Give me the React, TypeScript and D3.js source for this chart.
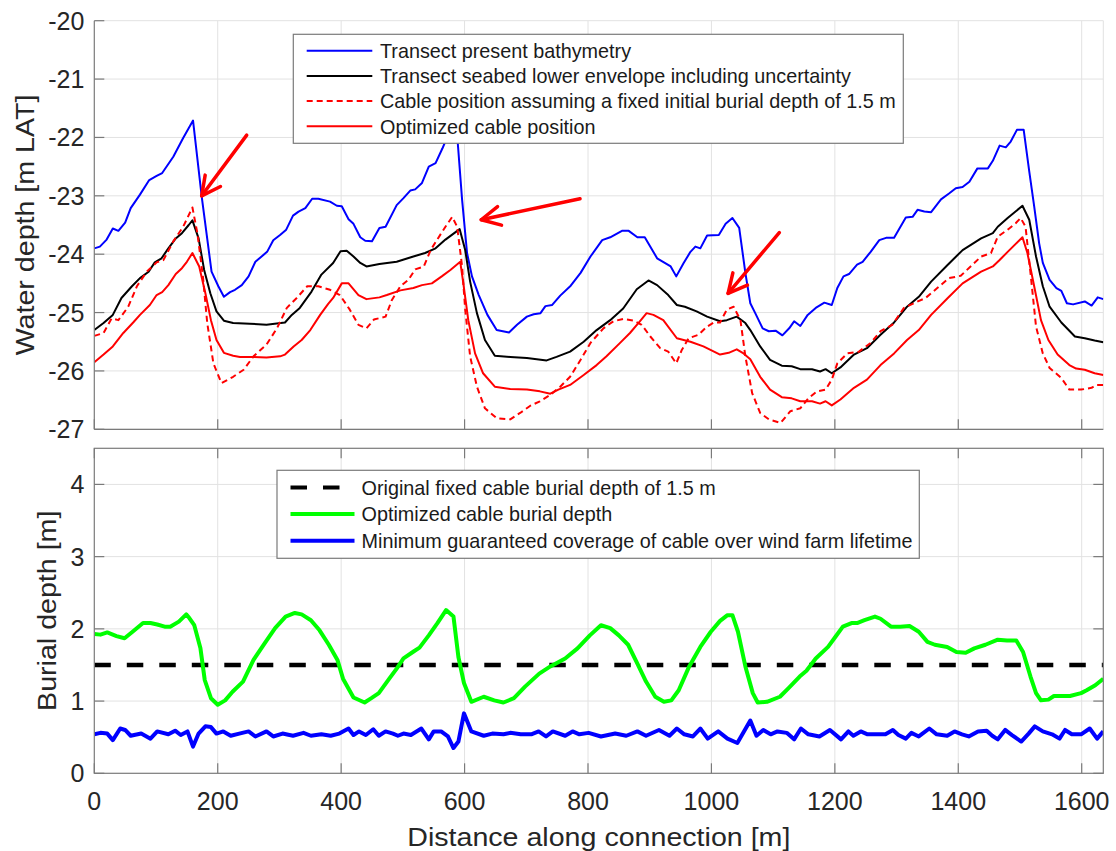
import React from "react";
import * as d3 from "d3";

// ---------------- DATA ----------------
const xTicks = [0, 200, 400, 600, 800, 1000, 1200, 1400, 1600];
const topYTicks = [-20, -21, -22, -23, -24, -25, -26, -27];
const bottomYTicks = [0, 1, 2, 3, 4];

const topLegend = [
  "Transect present bathymetry",
  "Transect seabed lower envelope including uncertainty",
  "Cable position assuming a fixed initial burial depth of 1.5 m",
  "Optimized cable position",
];
const bottomLegend = [
  "Original fixed cable burial depth of 1.5 m",
  "Optimized cable burial depth",
  "Minimum guaranteed coverage of cable over wind farm lifetime",
];

const bathymetry: [number, number][] = [
  [0, -23.9], [9, -23.87], [20, -23.75], [30, -23.56], [39, -23.6], [50, -23.46], [59, -23.21], [74, -22.98],
  [89, -22.73], [101, -22.66], [110, -22.61], [128, -22.33], [144, -22.01], [160, -21.71], [174, -23.01],
  [190, -24.3], [201, -24.55], [210, -24.73], [220, -24.65], [228, -24.61], [239, -24.53], [250, -24.38],
  [261, -24.13], [280, -23.96], [290, -23.76], [301, -23.67], [311, -23.58], [322, -23.34], [331, -23.27],
  [342, -23.21], [353, -23.05], [363, -23.05], [382, -23.1], [393, -23.17], [401, -23.18], [412, -23.4],
  [420, -23.48], [431, -23.71], [439, -23.77], [450, -23.78], [462, -23.55], [472, -23.53], [490, -23.16],
  [501, -23.04], [512, -22.91], [520, -22.89], [531, -22.78], [542, -22.5], [553, -22.44], [564, -22.19],
  [570, -22.04], [582, -21.6], [589, -22.1], [596, -23.07], [604, -23.98], [612, -24.38], [623, -24.7],
  [637, -25.04], [652, -25.3], [672, -25.34], [685, -25.21], [701, -25.07], [712, -25.03], [723, -25.01],
  [731, -24.89], [742, -24.87], [755, -24.71], [772, -24.54], [788, -24.32], [804, -24.04], [823, -23.76],
  [836, -23.71], [855, -23.6], [866, -23.6], [880, -23.71], [892, -23.71], [912, -24.07], [923, -24.14],
  [934, -24.21], [943, -24.38], [955, -24.15], [966, -23.96], [974, -23.87], [982, -23.9], [993, -23.68],
  [1012, -23.67], [1023, -23.48], [1034, -23.38], [1045, -23.55], [1055, -24.32], [1063, -24.84],
  [1071, -25.01], [1083, -25.27], [1093, -25.32], [1104, -25.31], [1115, -25.39], [1126, -25.27],
  [1134, -25.15], [1144, -25.23], [1156, -25.04], [1169, -24.92], [1183, -24.83], [1195, -24.87],
  [1204, -24.58], [1214, -24.38], [1223, -24.34], [1236, -24.18], [1245, -24.13], [1258, -23.96],
  [1272, -23.76], [1283, -23.72], [1296, -23.72], [1315, -23.37], [1326, -23.36], [1334, -23.24],
  [1345, -23.27], [1356, -23.28], [1372, -23.06], [1385, -22.96], [1396, -22.87], [1407, -22.85],
  [1418, -22.76], [1431, -22.53], [1448, -22.53], [1456, -22.4], [1467, -22.14], [1477, -22.17],
  [1485, -22.07], [1495, -21.87], [1506, -21.87], [1515, -22.58], [1523, -23.18], [1531, -23.81],
  [1537, -24.15], [1548, -24.44], [1559, -24.58], [1567, -24.63], [1576, -24.84], [1586, -24.86],
  [1605, -24.81], [1616, -24.88], [1626, -24.74], [1635, -24.77],
];

const lowerEnvelope: [number, number][] = [
  [0, -25.3], [15, -25.18], [30, -25.04], [44, -24.75], [61, -24.55], [74, -24.41], [88, -24.3], [98, -24.14],
  [109, -24.07], [120, -23.9], [132, -23.73], [142, -23.64], [153, -23.5], [159, -23.42], [169, -23.73],
  [178, -24.27], [188, -24.67], [198, -24.98], [210, -25.14], [225, -25.18], [252, -25.19], [279, -25.21],
  [309, -25.17], [320, -25.04], [333, -24.92], [352, -24.64], [368, -24.35], [387, -24.15], [399, -23.95],
  [409, -23.94], [420, -24.04], [431, -24.15], [441, -24.21], [462, -24.17], [490, -24.13], [517, -24.04],
  [536, -23.98], [553, -23.9], [569, -23.75], [592, -23.57], [601, -23.93], [609, -24.47], [620, -25.01],
  [633, -25.47], [649, -25.74], [674, -25.76], [701, -25.78], [717, -25.8], [733, -25.82], [749, -25.76],
  [771, -25.67], [793, -25.5], [814, -25.3], [836, -25.13], [857, -24.93], [879, -24.6], [898, -24.45],
  [912, -24.53], [930, -24.7], [944, -24.87], [957, -24.9], [976, -24.98], [993, -25.07], [1014, -25.15],
  [1025, -25.13], [1041, -25.07], [1055, -25.18], [1063, -25.3], [1079, -25.58], [1095, -25.81],
  [1114, -25.91], [1130, -25.92], [1144, -25.97], [1163, -25.97], [1176, -26.01], [1185, -25.97],
  [1195, -26.04], [1209, -25.94], [1231, -25.72], [1252, -25.61], [1274, -25.38], [1296, -25.17],
  [1317, -24.9], [1336, -24.73], [1356, -24.47], [1383, -24.18], [1407, -23.93], [1437, -23.73],
  [1456, -23.64], [1464, -23.53], [1480, -23.38], [1504, -23.17], [1515, -23.41], [1526, -24.04],
  [1537, -24.55], [1548, -24.9], [1567, -25.17], [1589, -25.41], [1605, -25.44], [1621, -25.48], [1635, -25.51],
];

const fixedCable: [number, number][] = [
  [0, -25.4], [15, -25.35], [28, -25.1], [39, -25.13], [55, -24.9], [69, -24.55], [85, -24.3], [101, -24.14],
  [112, -24.1], [128, -23.78], [144, -23.53], [159, -23.2], [167, -23.64], [176, -24.38], [183, -25.18],
  [193, -25.87], [206, -26.21], [225, -26.1], [242, -25.98], [258, -25.75], [279, -25.55], [296, -25.27],
  [312, -24.92], [328, -24.75], [345, -24.55], [363, -24.55], [382, -24.61], [398, -24.7], [414, -24.95],
  [428, -25.21], [441, -25.27], [453, -25.12], [472, -25.07], [482, -24.79], [496, -24.55], [509, -24.44],
  [520, -24.26], [534, -24.21], [545, -23.93], [555, -23.76], [569, -23.53], [580, -23.36], [588, -23.53],
  [596, -24.21], [601, -24.95], [609, -25.75], [620, -26.27], [633, -26.64], [652, -26.81], [674, -26.83],
  [690, -26.72], [706, -26.6], [722, -26.52], [739, -26.41], [755, -26.27], [771, -26.1], [788, -25.81],
  [804, -25.52], [825, -25.27], [841, -25.15], [857, -25.11], [874, -25.14], [887, -25.21], [901, -25.41],
  [917, -25.61], [930, -25.67], [943, -25.87], [952, -25.64], [963, -25.44], [979, -25.38], [993, -25.24],
  [1004, -25.17], [1014, -25.17], [1025, -24.95], [1036, -24.9], [1047, -25.13], [1055, -25.75],
  [1066, -26.38], [1079, -26.72], [1093, -26.83], [1112, -26.89], [1128, -26.69], [1144, -26.64],
  [1157, -26.47], [1171, -26.35], [1185, -26.32], [1195, -26.15], [1204, -25.87], [1220, -25.7],
  [1239, -25.67], [1258, -25.52], [1274, -25.32], [1293, -25.21], [1312, -24.92], [1328, -24.84],
  [1347, -24.75], [1366, -24.58], [1385, -24.41], [1404, -24.37], [1423, -24.18], [1437, -24.04],
  [1453, -23.98], [1464, -23.7], [1480, -23.58], [1493, -23.47], [1501, -23.38], [1509, -23.53],
  [1517, -24.32], [1526, -25.24], [1537, -25.7], [1548, -25.95], [1567, -26.12], [1580, -26.32],
  [1599, -26.32], [1616, -26.29], [1624, -26.24], [1635, -26.24],
];

const optimizedCable: [number, number][] = [
  [0, -25.85], [15, -25.72], [30, -25.58], [47, -25.35], [63, -25.17], [74, -25.04], [90, -24.87], [101, -24.7],
  [110, -24.65], [120, -24.53], [132, -24.34], [142, -24.24], [150, -24.13], [159, -23.98], [170, -24.21],
  [180, -24.67], [189, -25.13], [198, -25.47], [210, -25.69], [225, -25.74], [236, -25.76], [258, -25.76],
  [279, -25.77], [301, -25.75], [309, -25.72], [323, -25.58], [336, -25.47], [350, -25.3], [366, -25.04],
  [379, -24.85], [387, -24.75], [401, -24.5], [412, -24.5], [428, -24.7], [441, -24.77], [462, -24.74],
  [474, -24.7], [496, -24.62], [517, -24.58], [531, -24.53], [547, -24.5], [563, -24.38], [577, -24.27],
  [593, -24.13], [598, -24.5], [606, -25.13], [617, -25.7], [630, -26.04], [649, -26.27], [674, -26.31],
  [701, -26.32], [722, -26.35], [739, -26.39], [752, -26.32], [771, -26.24], [793, -26.07], [814, -25.9],
  [830, -25.75], [852, -25.52], [868, -25.35], [884, -25.15], [895, -25.01], [906, -25.04], [922, -25.13],
  [944, -25.44], [966, -25.5], [987, -25.58], [1014, -25.72], [1028, -25.69], [1041, -25.63], [1052, -25.7],
  [1063, -25.8], [1079, -26.1], [1095, -26.32], [1114, -26.45], [1130, -26.47], [1144, -26.52],
  [1163, -26.52], [1176, -26.56], [1185, -26.52], [1195, -26.59], [1209, -26.49], [1231, -26.29],
  [1252, -26.15], [1274, -25.9], [1296, -25.7], [1317, -25.47], [1336, -25.3], [1356, -25.04],
  [1383, -24.75], [1407, -24.5], [1437, -24.3], [1456, -24.21], [1467, -24.1], [1480, -23.96],
  [1504, -23.71], [1512, -23.98], [1523, -24.55], [1534, -25.13], [1546, -25.47], [1561, -25.72],
  [1580, -25.9], [1591, -25.96], [1605, -25.98], [1621, -26.04], [1635, -26.07],
];

// arrows: [tailX, tailY, tipX, tipY] in data units
const arrows: [number, number, number, number][] = [
  [247, -21.96, 174, -23.0],
  [787, -23.05, 627, -23.41],
  [1110, -23.63, 1027, -24.67],
];

const fixedBurialDepth = 1.5;

const optimizedBurial: [number, number][] = [
  [0, 1.93], [10, 1.92], [21, 1.95], [36, 1.9], [49, 1.87], [62, 1.96], [79, 2.08], [91, 2.08], [102, 2.06],
  [114, 2.03], [123, 2.03], [137, 2.1], [149, 2.2], [154, 2.15], [162, 2.05], [172, 1.73], [179, 1.29],
  [189, 1.04], [200, 0.95], [212, 1.01], [224, 1.13], [241, 1.27], [258, 1.57], [276, 1.8], [293, 2.01],
  [310, 2.17], [325, 2.22], [336, 2.2], [351, 2.12], [365, 1.98], [380, 1.78], [394, 1.57], [403, 1.31],
  [420, 1.05], [438, 0.98], [449, 1.04], [461, 1.11], [478, 1.31], [490, 1.45], [501, 1.59], [518, 1.69],
  [527, 1.74], [542, 1.91], [556, 2.08], [570, 2.26], [582, 2.17], [590, 1.61], [599, 1.25], [611, 0.99],
  [631, 1.06], [648, 1.01], [663, 0.98], [680, 1.04], [698, 1.2], [721, 1.38], [739, 1.48], [763, 1.59],
  [783, 1.73], [803, 1.91], [821, 2.05], [836, 2.01], [850, 1.91], [865, 1.78], [880, 1.52], [894, 1.27],
  [909, 1.06], [923, 0.99], [935, 1.01], [947, 1.15], [964, 1.48], [982, 1.75], [999, 1.96], [1014, 2.11],
  [1026, 2.19], [1034, 2.19], [1043, 1.96], [1055, 1.48], [1067, 1.11], [1075, 0.98], [1090, 0.99],
  [1111, 1.06], [1125, 1.18], [1143, 1.34], [1154, 1.42], [1169, 1.59], [1189, 1.75], [1201, 1.89],
  [1213, 2.03], [1227, 2.08], [1236, 2.08], [1248, 2.12], [1265, 2.17], [1274, 2.14], [1291, 2.03],
  [1306, 2.03], [1321, 2.04], [1336, 1.96], [1350, 1.82], [1362, 1.78], [1382, 1.75], [1397, 1.68],
  [1412, 1.67], [1426, 1.73], [1444, 1.78], [1464, 1.85], [1479, 1.84], [1494, 1.84], [1505, 1.68],
  [1517, 1.34], [1526, 1.11], [1534, 1.01], [1546, 1.02], [1555, 1.07], [1581, 1.07], [1599, 1.11],
  [1608, 1.15], [1622, 1.22], [1635, 1.31],
];

const minCoverage: [number, number][] = [
  [0, 0.54], [10, 0.56], [21, 0.55], [30, 0.46], [42, 0.62], [50, 0.6], [59, 0.52], [76, 0.55], [91, 0.48],
  [102, 0.58], [120, 0.54], [131, 0.59], [140, 0.53], [151, 0.58], [160, 0.37], [169, 0.55], [180, 0.65],
  [189, 0.64], [198, 0.55], [209, 0.58], [221, 0.52], [235, 0.55], [250, 0.58], [261, 0.51], [279, 0.58],
  [290, 0.51], [305, 0.55], [322, 0.52], [339, 0.56], [351, 0.52], [368, 0.54], [383, 0.52], [397, 0.55],
  [412, 0.62], [420, 0.53], [429, 0.58], [440, 0.53], [452, 0.61], [461, 0.52], [472, 0.58], [484, 0.55],
  [492, 0.52], [501, 0.55], [513, 0.53], [530, 0.62], [542, 0.47], [550, 0.58], [562, 0.58], [573, 0.51],
  [582, 0.35], [590, 0.44], [599, 0.83], [611, 0.58], [631, 0.52], [645, 0.55], [663, 0.54], [674, 0.56],
  [691, 0.54], [708, 0.54], [720, 0.58], [732, 0.51], [743, 0.58], [763, 0.52], [775, 0.58], [786, 0.54],
  [801, 0.56], [821, 0.51], [844, 0.55], [862, 0.52], [880, 0.58], [894, 0.52], [915, 0.6], [932, 0.52],
  [944, 0.62], [956, 0.54], [970, 0.51], [982, 0.62], [994, 0.48], [1011, 0.58], [1026, 0.48], [1042, 0.42],
  [1063, 0.73], [1073, 0.52], [1084, 0.6], [1096, 0.54], [1107, 0.58], [1122, 0.56], [1134, 0.47],
  [1145, 0.62], [1157, 0.54], [1175, 0.51], [1192, 0.6], [1210, 0.47], [1222, 0.58], [1230, 0.52],
  [1242, 0.58], [1253, 0.54], [1282, 0.54], [1294, 0.6], [1303, 0.53], [1315, 0.48], [1324, 0.56],
  [1336, 0.51], [1353, 0.62], [1365, 0.54], [1382, 0.52], [1394, 0.58], [1406, 0.54], [1417, 0.51],
  [1432, 0.58], [1446, 0.59], [1455, 0.52], [1464, 0.47], [1476, 0.6], [1487, 0.53], [1502, 0.44],
  [1514, 0.55], [1524, 0.65], [1537, 0.58], [1552, 0.54], [1564, 0.48], [1573, 0.6], [1584, 0.54],
  [1599, 0.54], [1613, 0.62], [1625, 0.48], [1635, 0.58],
];

// ---------------- LAYOUT ----------------
const W = 1116;
const H = 851;
const L = 94.3;
const R = 1103.3;
const topT = 20.7;
const topB = 429.3;
const botT = 448.3;
const botB = 773.3;
const FONT = "'Liberation Sans', Arial, Helvetica, sans-serif";
const AXIS = "#7a7a7a";
const GRID = "#e2e2e2";
const TXT = "#262626";
const LABEL_SIZE = 26;
const LABEL_STRETCH = 1.1;
const LEGEND_SIZE = 19.8;

export default function App() {
  const x = d3.scaleLinear().domain([0, 1635]).range([L, R]);
  const yTop = d3.scaleLinear().domain([-27, -20]).range([topB, topT]);
  const yBot = d3.scaleLinear().domain([0, 4.5]).range([botB, botT]);

  const lineTop = d3.line<[number, number]>().x((d) => x(d[0])).y((d) => yTop(d[1]));
  const lineBot = d3.line<[number, number]>().x((d) => x(d[0])).y((d) => yBot(d[1]));

  const arrowEls = arrows.map((a, i) => {
    const x1 = x(a[0]), y1 = yTop(a[1]), x2 = x(a[2]), y2 = yTop(a[3]);
    const ang = Math.atan2(y1 - y2, x1 - x2);
    const hl = 21;
    const da = (27 * Math.PI) / 180;
    const h1 = [x2 + hl * Math.cos(ang + da), y2 + hl * Math.sin(ang + da)];
    const h2 = [x2 + hl * Math.cos(ang - da), y2 + hl * Math.sin(ang - da)];
    return (
      <g key={i} stroke="#ff0000" strokeWidth={3.5} fill="none" strokeLinecap="round" strokeLinejoin="round">
        <line x1={x1} y1={y1} x2={x2} y2={y2} />
        <polyline points={`${h1[0]},${h1[1]} ${x2},${y2} ${h2[0]},${h2[1]}`} />
      </g>
    );
  });

  const topSeries = [
    { data: bathymetry, color: "#0000ff", dash: undefined as string | undefined },
    { data: lowerEnvelope, color: "#000000", dash: undefined },
    { data: fixedCable, color: "#ff0000", dash: "6,4" },
    { data: optimizedCable, color: "#ff0000", dash: undefined },
  ];

  const topLegendBox = { x0: 293.3, y0: 34.3, x1: 903.3, y1: 143.3 };
  const botLegendBox = { x0: 277, y0: 470.3, x1: 919.3, y1: 558.3 };

  return (
    <svg
      width={W}
      height={H}
      viewBox={`0 0 ${W} ${H}`}
      style={{ position: "absolute", left: 0, top: 0, background: "#fff" }}
      fontFamily={FONT}
    >
      <defs>
        <clipPath id="clipTop">
          <rect x={L} y={topT} width={R - L} height={topB - topT} />
        </clipPath>
        <clipPath id="clipBot">
          <rect x={L} y={botT} width={R - L} height={botB - botT} />
        </clipPath>
      </defs>
      <rect x={0} y={0} width={W} height={H} fill="#fff" />

      {/* ===== TOP PANEL ===== */}
      <g>
        {xTicks.filter((t) => t > 0).map((t) => (
          <line key={"gx" + t} x1={x(t)} x2={x(t)} y1={topT} y2={topB} stroke={GRID} strokeWidth={1} />
        ))}
        {topYTicks.map((t) => (
          <line key={"gy" + t} x1={L} x2={R} y1={yTop(t)} y2={yTop(t)} stroke={GRID} strokeWidth={1} />
        ))}
        <line x1={R} x2={R} y1={topT} y2={topB} stroke={GRID} strokeWidth={1} />
        <g clipPath="url(#clipTop)">
          {topSeries.map((s, i) => (
            <path
              key={i}
              d={lineTop(s.data) || ""}
              fill="none"
              stroke={s.color}
              strokeWidth={2}
              strokeDasharray={s.dash}
              strokeLinejoin="round"
            />
          ))}
          {arrowEls}
        </g>
        {/* axes */}
        <line x1={L} x2={L} y1={topT} y2={topB} stroke={AXIS} strokeWidth={1.2} />
        <line x1={L} x2={R} y1={topB} y2={topB} stroke={AXIS} strokeWidth={1.2} />
        {xTicks.map((t) => (
          <line key={"tx" + t} x1={x(t)} x2={x(t)} y1={topB} y2={topB - 10} stroke={AXIS} strokeWidth={1.2} />
        ))}
        {topYTicks.map((t) => (
          <g key={"ty" + t}>
            <line x1={L} x2={L + 10} y1={yTop(t)} y2={yTop(t)} stroke={AXIS} strokeWidth={1.2} />
            <text x={L - 10} y={yTop(t) + 9} textAnchor="end" fontSize={25} fill={TXT}>
              {t}
            </text>
          </g>
        ))}
        <text
          transform={`translate(34,${(topT + topB) / 2}) rotate(-90) scale(${LABEL_STRETCH},1)`}
          textAnchor="middle"
          fontSize={LABEL_SIZE}
          fill={TXT}
        >
          Water depth [m LAT]
        </text>
        {/* legend */}
        <rect
          x={topLegendBox.x0}
          y={topLegendBox.y0}
          width={topLegendBox.x1 - topLegendBox.x0}
          height={topLegendBox.y1 - topLegendBox.y0}
          fill="#fff"
          stroke={AXIS}
          strokeWidth={1.2}
        />
        {topLegend.map((label, i) => {
          const cy = 50.7 + i * 25.2;
          const s = topSeries[i];
          return (
            <g key={"tl" + i}>
              <line x1={306.7} x2={372.3} y1={cy} y2={cy} stroke={s.color} strokeWidth={2} strokeDasharray={s.dash} />
              <text x={380} y={cy + 7.2} fontSize={LEGEND_SIZE} fill="#1a1a1a">
                {label}
              </text>
            </g>
          );
        })}
      </g>

      {/* ===== BOTTOM PANEL ===== */}
      <g>
        {xTicks.filter((t) => t > 0).map((t) => (
          <line key={"bgx" + t} x1={x(t)} x2={x(t)} y1={botT} y2={botB} stroke={GRID} strokeWidth={1} />
        ))}
        {bottomYTicks.filter((t) => t > 0).map((t) => (
          <line key={"bgy" + t} x1={L} x2={R} y1={yBot(t)} y2={yBot(t)} stroke={GRID} strokeWidth={1} />
        ))}
        <g clipPath="url(#clipBot)">
          <line
            x1={x(0)}
            x2={x(1635)}
            y1={yBot(fixedBurialDepth)}
            y2={yBot(fixedBurialDepth)}
            stroke="#000"
            strokeWidth={4.5}
            strokeDasharray="16.5,16"
          />
          <path d={lineBot(optimizedBurial) || ""} fill="none" stroke="#00ff00" strokeWidth={4} strokeLinejoin="round" />
          <path d={lineBot(minCoverage) || ""} fill="none" stroke="#0000ff" strokeWidth={4} strokeLinejoin="round" />
        </g>
        {/* box */}
        <rect x={L} y={botT} width={R - L} height={botB - botT} fill="none" stroke={AXIS} strokeWidth={1.2} />
        {xTicks.map((t) => (
          <g key={"btx" + t}>
            <line x1={x(t)} x2={x(t)} y1={botB} y2={botB - 10} stroke={AXIS} strokeWidth={1.2} />
            <line x1={x(t)} x2={x(t)} y1={botT} y2={botT + 10} stroke={AXIS} strokeWidth={1.2} />
            <text x={x(t)} y={810} textAnchor="middle" fontSize={25} fill={TXT}>
              {t}
            </text>
          </g>
        ))}
        {bottomYTicks.map((t) => (
          <g key={"bty" + t}>
            <line x1={L} x2={L + 10} y1={yBot(t)} y2={yBot(t)} stroke={AXIS} strokeWidth={1.2} />
            <line x1={R} x2={R - 10} y1={yBot(t)} y2={yBot(t)} stroke={AXIS} strokeWidth={1.2} />
            <text x={L - 10} y={yBot(t) + 9} textAnchor="end" fontSize={25} fill={TXT}>
              {t}
            </text>
          </g>
        ))}
        <text
          transform={`translate(56,${(botT + botB) / 2}) rotate(-90) scale(${LABEL_STRETCH},1)`}
          textAnchor="middle"
          fontSize={LABEL_SIZE}
          fill={TXT}
        >
          Burial depth [m]
        </text>
        <text
          transform={`translate(${(L + R) / 2},846) scale(${LABEL_STRETCH},1)`}
          textAnchor="middle"
          fontSize={LABEL_SIZE}
          fill={TXT}
        >
          Distance along connection [m]
        </text>
        {/* legend */}
        <rect
          x={botLegendBox.x0}
          y={botLegendBox.y0}
          width={botLegendBox.x1 - botLegendBox.x0}
          height={botLegendBox.y1 - botLegendBox.y0}
          fill="#fff"
          stroke={AXIS}
          strokeWidth={1.2}
        />
        {bottomLegend.map((label, i) => {
          const cy = 487.5 + i * 26.6;
          const colors = ["#000000", "#00ff00", "#0000ff"];
          return (
            <g key={"bl" + i}>
              <line
                x1={290.5}
                x2={354.5}
                y1={cy}
                y2={cy}
                stroke={colors[i]}
                strokeWidth={4}
                strokeDasharray={i === 0 ? "16.5,16" : undefined}
              />
              <text x={361.6} y={cy + 7.2} fontSize={LEGEND_SIZE} fill="#1a1a1a">
                {label}
              </text>
            </g>
          );
        })}
      </g>
    </svg>
  );
}
